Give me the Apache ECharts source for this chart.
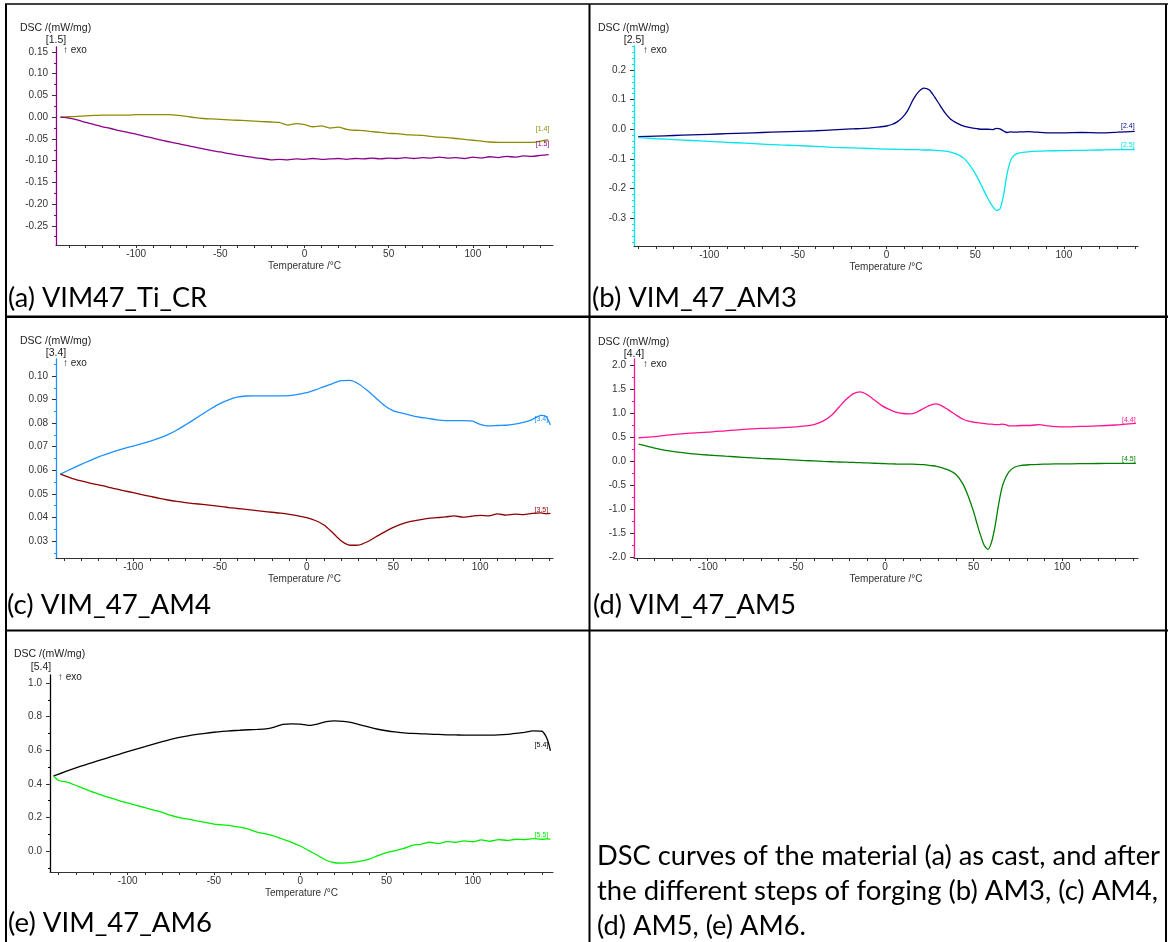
<!DOCTYPE html>
<html><head><meta charset="utf-8">
<script src="https://cdn.jsdelivr.net/npm/echarts@6/dist/echarts.min.js"></script>
<style>html,body{margin:0;padding:0;background:#fff}#c{width:1169px;height:942px}</style>
</head><body><div id="c"></div>
<script>
// ---------------- DATA ----------------
// (a) VIM47_Ti_CR
const tempA = [-145,-140,-135,-130,-125,-120,-115,-110,-105,-100,-95,-90,-85,-80,-75,-70,-65,-60,-55,-50,-45,-40,-35,-30,-25,-20,-15,-10,-5,0,5,10,15,20,25,30,35,40,45,50,55,60,65,70,75,80,85,90,95,100,105,110,115,120,125,130,135,140,145];
const dscA14 = [0.000,0.001,0.002,0.003,0.004,0.005,0.005,0.005,0.005,0.006,0.006,0.006,0.006,0.006,0.004,0.002,-0.001,-0.003,-0.004,-0.005,-0.006,-0.007,-0.008,-0.009,-0.010,-0.011,-0.012,-0.018,-0.015,-0.017,-0.022,-0.020,-0.025,-0.023,-0.028,-0.030,-0.031,-0.033,-0.035,-0.037,-0.038,-0.040,-0.041,-0.042,-0.044,-0.046,-0.047,-0.049,-0.051,-0.053,-0.055,-0.057,-0.058,-0.058,-0.058,-0.058,-0.058,-0.055,-0.052];
const dscA15 = [0.000,-0.002,-0.006,-0.012,-0.017,-0.022,-0.026,-0.031,-0.035,-0.039,-0.044,-0.048,-0.053,-0.057,-0.061,-0.065,-0.069,-0.073,-0.077,-0.080,-0.084,-0.087,-0.090,-0.093,-0.095,-0.098,-0.097,-0.098,-0.096,-0.097,-0.095,-0.097,-0.096,-0.095,-0.097,-0.095,-0.096,-0.094,-0.096,-0.094,-0.095,-0.093,-0.095,-0.093,-0.094,-0.092,-0.094,-0.093,-0.095,-0.092,-0.094,-0.091,-0.093,-0.090,-0.092,-0.089,-0.090,-0.088,-0.086];
// (b) VIM_47_AM3
const tempB = [-140,-130,-120,-110,-100,-90,-80,-70,-60,-50,-40,-30,-20,-10,-5,0,3,6,9,12,15,18,21,24,27,30,33,36,40,44,48,51,54,57,60,62,64,66,68,70,72,75,80,85,90,100,110,120,130,140];
const dscB24 = [-0.025,-0.023,-0.021,-0.019,-0.017,-0.015,-0.013,-0.011,-0.009,-0.007,-0.005,-0.002,0.001,0.004,0.007,0.011,0.016,0.025,0.040,0.064,0.100,0.126,0.139,0.133,0.110,0.082,0.055,0.035,0.020,0.010,0.005,0.002,0.000,0.000,-0.001,0.003,0.001,-0.006,-0.011,-0.009,-0.010,-0.009,-0.008,-0.010,-0.012,-0.012,-0.011,-0.012,-0.010,-0.007];
const dscB25 = [-0.028,-0.032,-0.035,-0.038,-0.041,-0.044,-0.047,-0.050,-0.053,-0.055,-0.058,-0.061,-0.063,-0.065,-0.066,-0.067,-0.067,-0.068,-0.068,-0.069,-0.069,-0.069,-0.070,-0.070,-0.071,-0.072,-0.074,-0.077,-0.085,-0.100,-0.130,-0.160,-0.196,-0.232,-0.262,-0.274,-0.268,-0.222,-0.150,-0.105,-0.088,-0.080,-0.076,-0.074,-0.073,-0.072,-0.071,-0.070,-0.069,-0.069];
// (c) VIM_47_AM4
const tempC = [-142,-135,-130,-125,-120,-115,-110,-105,-100,-95,-90,-85,-80,-75,-70,-65,-60,-55,-50,-45,-40,-35,-30,-25,-20,-15,-10,-5,0,5,10,15,20,25,30,35,40,45,50,55,60,65,70,75,80,85,90,95,100,105,110,115,120,125,130,135,138,140.5];
const dscC34 = [0.0584,0.0608,0.0625,0.0641,0.0657,0.0670,0.0682,0.0693,0.0703,0.0713,0.0724,0.0736,0.0751,0.0770,0.0792,0.0815,0.0839,0.0862,0.0883,0.0899,0.0910,0.0915,0.0916,0.0916,0.0916,0.0916,0.0917,0.0922,0.0929,0.0941,0.0955,0.0968,0.0980,0.0981,0.0966,0.0938,0.0906,0.0874,0.0852,0.0842,0.0833,0.0825,0.0820,0.0814,0.0811,0.0811,0.0811,0.0810,0.0795,0.0788,0.0790,0.0791,0.0796,0.0803,0.0815,0.0833,0.0828,0.0792];
const dscC35 = [0.0584,0.0565,0.0555,0.0546,0.0538,0.0530,0.0521,0.0513,0.0505,0.0497,0.0489,0.0481,0.0474,0.0468,0.0463,0.0459,0.0455,0.0451,0.0447,0.0442,0.0438,0.0434,0.0430,0.0426,0.0422,0.0418,0.0413,0.0407,0.0399,0.0387,0.0368,0.0335,0.0300,0.0282,0.0283,0.0297,0.0318,0.0339,0.0358,0.0373,0.0383,0.0390,0.0396,0.0399,0.0402,0.0407,0.0401,0.0405,0.0409,0.0407,0.0415,0.0410,0.0414,0.0412,0.0417,0.0419,0.0416,0.0417];
// (d) VIM_47_AM5
const tempD = [-139,-130,-120,-110,-100,-90,-80,-70,-60,-50,-45,-40,-35,-30,-26,-22,-18,-14,-10,-6,-2,2,6,10,14,18,22,26,29,32,36,40,44,47,50,52,54,56,58,60,62,64,66,68,70,73,77,82,87,92,100,110,120,130,141.5];
const dscD44 = [0.485,0.51,0.55,0.58,0.60,0.63,0.66,0.68,0.69,0.71,0.73,0.76,0.83,0.96,1.12,1.28,1.40,1.44,1.38,1.27,1.16,1.08,1.02,0.99,0.98,1.02,1.10,1.17,1.19,1.15,1.06,0.96,0.87,0.83,0.81,0.80,0.79,0.78,0.77,0.77,0.76,0.76,0.77,0.76,0.73,0.73,0.74,0.74,0.76,0.73,0.71,0.72,0.73,0.75,0.785];
const dscD45 = [0.35,0.27,0.20,0.155,0.125,0.10,0.078,0.056,0.038,0.020,0.010,0.002,-0.008,-0.015,-0.020,-0.025,-0.030,-0.035,-0.040,-0.046,-0.052,-0.058,-0.062,-0.064,-0.066,-0.068,-0.075,-0.095,-0.11,-0.14,-0.19,-0.28,-0.48,-0.74,-1.06,-1.32,-1.56,-1.76,-1.84,-1.70,-1.37,-0.92,-0.55,-0.35,-0.22,-0.13,-0.09,-0.076,-0.068,-0.063,-0.06,-0.055,-0.052,-0.05,-0.049];
// (e) VIM_47_AM6
const tempE = [-143,-140,-135,-130,-125,-120,-115,-110,-105,-100,-95,-90,-85,-80,-75,-70,-65,-60,-55,-50,-45,-40,-35,-30,-25,-20,-15,-10,-5,0,5,10,15,20,25,30,35,40,45,50,55,60,65,70,75,80,85,90,95,100,105,110,115,120,125,130,135,140,143,145];
const dscE54 = [0.448,0.458,0.477,0.495,0.512,0.528,0.544,0.560,0.576,0.592,0.607,0.622,0.637,0.651,0.664,0.676,0.686,0.694,0.701,0.707,0.712,0.716,0.719,0.722,0.724,0.727,0.738,0.754,0.757,0.756,0.748,0.756,0.770,0.775,0.772,0.764,0.751,0.737,0.725,0.716,0.709,0.704,0.700,0.698,0.696,0.694,0.692,0.691,0.690,0.690,0.690,0.690,0.691,0.694,0.700,0.707,0.715,0.713,0.670,0.597];
const dscE55 = [0.448,0.420,0.410,0.390,0.370,0.350,0.333,0.316,0.300,0.286,0.272,0.258,0.244,0.230,0.212,0.199,0.190,0.180,0.170,0.160,0.155,0.150,0.142,0.130,0.112,0.102,0.088,0.070,0.052,0.030,0.002,-0.025,-0.055,-0.070,-0.072,-0.068,-0.060,-0.048,-0.028,-0.010,0.002,0.015,0.034,0.040,0.052,0.044,0.056,0.052,0.060,0.055,0.066,0.058,0.068,0.063,0.070,0.068,0.074,0.070,0.072,0.071];

// tick labels
const xTickLabels = [-100,-50,0,50,100];
const xMinorTicks = [-140,-130,-120,-110,-100,-90,-80,-70,-60,-50,-40,-30,-20,-10,0,10,20,30,40,50,60,70,80,90,100,110,120,130,140];
const yTicksA = [-0.25,-0.20,-0.15,-0.10,-0.05,0.00,0.05,0.10,0.15];
const yMinorA = [-0.275,-0.225,-0.175,-0.125,-0.075,-0.025,0.025,0.075,0.125];
const yTicksB = [-0.3,-0.2,-0.1,0.0,0.1,0.2];
const yMinorB = [-0.38,-0.36,-0.34,-0.32,-0.28,-0.26,-0.24,-0.22,-0.18,-0.16,-0.14,-0.12,-0.08,-0.06,-0.04,-0.02,0.02,0.04,0.06,0.08,0.12,0.14,0.16,0.18,0.22,0.24,0.26,0.28];
const yTicksC = [0.03,0.04,0.05,0.06,0.07,0.08,0.09,0.10];
const yMinorC = [0.025,0.035,0.045,0.055,0.065,0.075,0.085,0.095,0.105];
const yTicksD = [-2.0,-1.5,-1.0,-0.5,0.0,0.5,1.0,1.5,2.0];
const yMinorD = [-1.75,-1.25,-0.75,-0.25,0.25,0.75,1.25,1.75];
const yTicksE = [0.0,0.2,0.4,0.6,0.8,1.0];
const yMinorE = [-0.1,0.1,0.3,0.5,0.7,0.9];

const captions = ['(a) VIM47_Ti_CR','(b) VIM_47_AM3','(c) VIM_47_AM4','(d) VIM_47_AM5','(e) VIM_47_AM6'];
const noteLines = ['DSC curves of the material (a) as cast, and after','the different steps of forging (b) AM3, (c) AM4,','(d) AM5, (e) AM6.'];

// ---------------- LAYOUT ----------------
const F = '"Liberation Sans", Arial, sans-serif';
const zip = (t, v) => t.map((x, i) => [x, v[i]]);
const panels = [
  {grid:{left:56,top:47,width:497,height:198}, x:[-147.6,147.6], y:[-0.294,0.1615], yt:yTicksA, ym:yMinorA, dec:2, ac:'#8b008b',
   unit:'[1.5]', dsc:[20,28], u:[56,40], exo:[63,50], cap:[8,299], capW:199,
   ser:[{t:tempA,v:dscA14,c:'#8c8c00',lab:'[1.4]',off:[-6,-11]},{t:tempA,v:dscA15,c:'#8b008b',lab:'[1.5]',off:[-6,-11]}]},
  {grid:{left:634,top:46,width:504,height:200}, x:[-142.4,141.8], y:[-0.394,0.281], yt:yTicksB, ym:yMinorB, dec:1, ac:'#00e5ee',
   unit:'[2.5]', dsc:[598,28], u:[634,40], exo:[643,50], cap:[592,299], capW:205,
   ser:[{t:tempB,v:dscB24,c:'#000080',lab:'[2.4]',off:[-7,-5]},{t:tempB,v:dscB25,c:'#00e5ee',lab:'[2.5]',off:[-7,-5]}]},
  {grid:{left:56,top:359,width:497,height:199}, x:[-144.5,142], y:[0.0228,0.1072], yt:yTicksC, ym:yMinorC, dec:2, ac:'#1e90ff',
   unit:'[3.4]', dsc:[20,341], u:[56,353], exo:[63,363], cap:[7,606], capW:204,
   ser:[{t:tempC,v:dscC34,c:'#1e90ff',lab:'[3.4]',off:[-9,-6]},{t:tempC,v:dscC35,c:'#8b0000',lab:'[3.5]',off:[-9,-3]}]},
  {grid:{left:634,top:359,width:504,height:199}, x:[-141.6,142.7], y:[-2.02,2.125], yt:yTicksD, ym:yMinorD, dec:1, ac:'#ff1493',
   unit:'[4.4]', dsc:[598,342], u:[634,354], exo:[643,364], cap:[593,606], capW:203,
   ser:[{t:tempD,v:dscD44,c:'#ff1493',lab:'[4.4]',off:[-7,-3]},{t:tempD,v:dscD45,c:'#008000',lab:'[4.5]',off:[-7,-4]}]},
  {grid:{left:50,top:675,width:503,height:197}, x:[-145,146.5], y:[-0.125,1.048], yt:yTicksE, ym:yMinorE, dec:1, ac:'#000000',
   unit:'[5.4]', dsc:[14,654], u:[41,667], exo:[58,677], cap:[8,924], capW:204,
   ser:[{t:tempE,v:dscE54,c:'#000000',lab:'[5.4]',off:[-9,-6]},{t:tempE,v:dscE55,c:'#00ee00',lab:'[5.5]',off:[-9,-4]}]}
];

const mctx = document.createElement('canvas').getContext('2d');
function tw(t, font){ mctx.font = font; return mctx.measureText(t).width; }
const capFont = '26px Lato';
function capText(x, y, text, width){
  return {type:'text', x:x, y:y, scaleX: width / tw(text, capFont),
    style:{text:text, font:capFont, fill:'#000', align:'left', textAlign:'left', verticalAlign:'middle', textVerticalAlign:'middle'}};
}

const grids = [], xAxes = [], yAxes = [], series = [], graphics = [];
panels.forEach((p, i) => {
  grids.push(Object.assign({containLabel:false}, p.grid));
  xAxes.push({
    gridIndex:i, type:'value', min:p.x[0], max:p.x[1],
    axisLine:{show:true, onZero:false, lineStyle:{color:'#333', width:1}},
    axisTick:{show:true, customValues:xMinorTicks, length:3, lineStyle:{color:'#333'}},
    axisLabel:{customValues:xTickLabels, fontSize:10, fontFamily:F, color:'#333', margin:4},
    splitLine:{show:false},
    name:'Temperature /°C', nameLocation:'middle', nameGap:16,
    nameTextStyle:{fontSize:10, fontFamily:F, color:'#333'}
  });
  const yMain = yAxes.length;
  yAxes.push({
    gridIndex:i, type:'value', min:p.y[0], max:p.y[1], position:'left',
    axisLine:{show:true, onZero:false, lineStyle:{color:p.ac, width:1.3}},
    axisTick:{show:true, customValues:p.yt, length:4, lineStyle:{color:'#333'}},
    axisLabel:{customValues:p.yt, fontSize:10, fontFamily:F, color:'#333', margin:8,
      formatter:(v)=>Number(v).toFixed(p.dec)},
    splitLine:{show:false}
  });
  yAxes.push({
    gridIndex:i, type:'value', min:p.y[0], max:p.y[1], position:'left', offset:0,
    axisLine:{show:false, onZero:false},
    axisTick:{show:true, customValues:p.ym, length:2, lineStyle:{color:p.ac}},
    axisLabel:{show:false}, splitLine:{show:false}
  });
  p.ser.forEach(s => {
    series.push({
      type:'line', xAxisIndex:i, yAxisIndex:yMain, data:zip(s.t, s.v),
      showSymbol:false, smooth:0.25, animation:false,
      lineStyle:{color:s.c, width:1.3}, itemStyle:{color:s.c},
      endLabel:{show:true, formatter:s.lab, color:s.c, fontSize:7, fontFamily:F,
        align:'center', verticalAlign:'middle', distance:0, offset:s.off}
    });
  });
  graphics.push({type:'text', x:p.dsc[0], y:p.dsc[1], style:{text:'DSC /(mW/mg)', font:'10.5px '+F, fill:'#222', align:'left', textAlign:'left', verticalAlign:'middle', textVerticalAlign:'middle'}});
  graphics.push({type:'text', x:p.u[0], y:p.u[1], style:{text:p.unit, font:'10.5px '+F, fill:'#222', align:'center', textAlign:'center', verticalAlign:'middle', textVerticalAlign:'middle'}});
  graphics.push({type:'text', x:p.exo[0], y:p.exo[1], style:{text:'\u2191 exo', font:'10px '+F, fill:'#222', align:'left', textAlign:'left', verticalAlign:'middle', textVerticalAlign:'middle'}});
  graphics.push(capText(p.cap[0], p.cap[1], captions[i], p.capW));
});
// note text in last cell
const noteY = [857, 892, 927];
const noteW = [563, 561, 209];
noteLines.forEach((t, k) => graphics.push(capText(597, noteY[k], t, noteW[k])));
// table rules
const rule = (x1,y1,x2,y2,w) => ({type:'line', shape:{x1,y1,x2,y2}, style:{stroke:'#000', lineWidth:w}, silent:true});
graphics.push(rule(5,4,1168,4,1.6));
graphics.push(rule(6,4,6,942,2));
graphics.push(rule(1166,4,1166,942,2));
graphics.push(rule(589.5,4,589.5,942,2));
graphics.push(rule(5,316.7,1168,316.7,2.6));
graphics.push(rule(5,630.5,1168,630.5,2.2));

const chart = echarts.init(document.getElementById('c'), null, {renderer:'canvas'});
chart.setOption({
  animation:false, backgroundColor:'#fff',
  grid:grids, xAxis:xAxes, yAxis:yAxes, series:series, graphic:graphics
});
</script></body></html>
